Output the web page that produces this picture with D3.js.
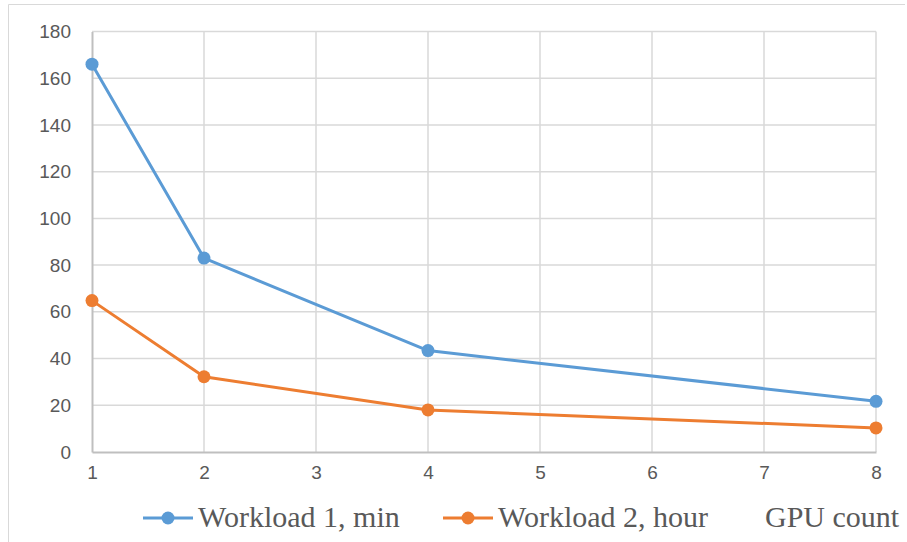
<!DOCTYPE html>
<html><head><meta charset="utf-8">
<script src="https://cdn.jsdelivr.net/npm/d3@7"></script>
<style>html,body{margin:0;padding:0;background:#fff;}svg{display:block;}</style>
</head><body>
<script>
const gpuCounts = [1, 2, 4, 8];
const workload1 = [166, 83, 43.4, 21.7];
const workload2 = [64.8, 32.2, 18, 10.3];
const seriesNames = ["Workload 1, min", "Workload 2, hour"];
const seriesColors = ["#5B9BD5", "#ED7D31"];
const xTicks = [1, 2, 3, 4, 5, 6, 7, 8];
const yTicks = [0, 20, 40, 60, 80, 100, 120, 140, 160, 180];
const xTitle = "GPU count";

const W = 907, H = 542;
const svg = d3.select("body").append("svg").attr("width", W).attr("height", H);

// chart area border
svg.append("line").attr("x1", 8.5).attr("x2", 905).attr("y1", 4.5).attr("y2", 4.5).attr("stroke", "#D9D9D9");
svg.append("line").attr("x1", 8.5).attr("x2", 8.5).attr("y1", 4.5).attr("y2", H).attr("stroke", "#D9D9D9");

const x = d3.scaleLinear().domain([1, 8]).range([92, 876]);
const y = d3.scaleLinear().domain([0, 180]).range([452, 31.5]);

// gridlines
const g = svg.append("g");
g.selectAll(".hg").data(yTicks.filter(d => d > 0)).enter().append("line")
  .attr("x1", x(1)).attr("x2", x(8)).attr("y1", d => y(d)).attr("y2", d => y(d))
  .attr("stroke", "#D9D9D9").attr("stroke-width", 1.5);
g.selectAll(".vg").data(xTicks.filter(d => d > 1)).enter().append("line")
  .attr("x1", d => x(d)).attr("x2", d => x(d)).attr("y1", y(180)).attr("y2", y(0))
  .attr("stroke", "#D9D9D9").attr("stroke-width", 1.5);

// axes
const yAxis = d3.axisLeft(y).tickValues(yTicks).tickSize(0).tickPadding(21);
const ya = svg.append("g").attr("transform", `translate(${x(1)},0)`).call(yAxis);
ya.select(".domain").attr("stroke", "#BFBFBF").attr("stroke-width", 2);
ya.selectAll("text").attr("font-family", "Liberation Sans, Arial, sans-serif").attr("font-size", 19).attr("fill", "#595959");

const xAxis = d3.axisBottom(x).tickValues(xTicks).tickSize(0).tickPadding(14).tickFormat(d3.format("d"));
const xa = svg.append("g").attr("transform", `translate(0,${y(0)})`).call(xAxis);
xa.select(".domain").attr("stroke", "#BFBFBF").attr("stroke-width", 2);
xa.selectAll("text").attr("font-family", "Liberation Sans, Arial, sans-serif").attr("font-size", 19).attr("fill", "#595959");

// series
const allSeries = [workload1, workload2];
const line = d3.line().x((d, i) => x(gpuCounts[i])).y(d => y(d));
allSeries.forEach((s, k) => {
  svg.append("path").datum(s).attr("d", line).attr("fill", "none")
    .attr("stroke", seriesColors[k]).attr("stroke-width", 3).attr("stroke-linejoin", "round");
  svg.selectAll(".m" + k).data(s).enter().append("circle")
    .attr("cx", (d, i) => x(gpuCounts[i])).attr("cy", d => y(d)).attr("r", 6.5)
    .attr("fill", seriesColors[k]);
});

// legend
const legX = [143, 443];
const legY = 518;
seriesNames.forEach((n, k) => {
  const lg = svg.append("g");
  lg.append("line").attr("x1", legX[k]).attr("x2", legX[k] + 50).attr("y1", legY).attr("y2", legY)
    .attr("stroke", seriesColors[k]).attr("stroke-width", 3);
  lg.append("circle").attr("cx", legX[k] + 25).attr("cy", legY).attr("r", 6.5).attr("fill", seriesColors[k]);
  lg.append("text").attr("x", legX[k] + 55).attr("y", 527).text(n)
    .attr("font-family", "Liberation Serif, Times New Roman, serif").attr("font-size", 30).attr("fill", "#595959");
});
svg.append("text").attr("x", 765).attr("y", 527).text(xTitle)
  .attr("font-family", "Liberation Serif, Times New Roman, serif").attr("font-size", 30).attr("fill", "#595959");
</script>
</body></html>
